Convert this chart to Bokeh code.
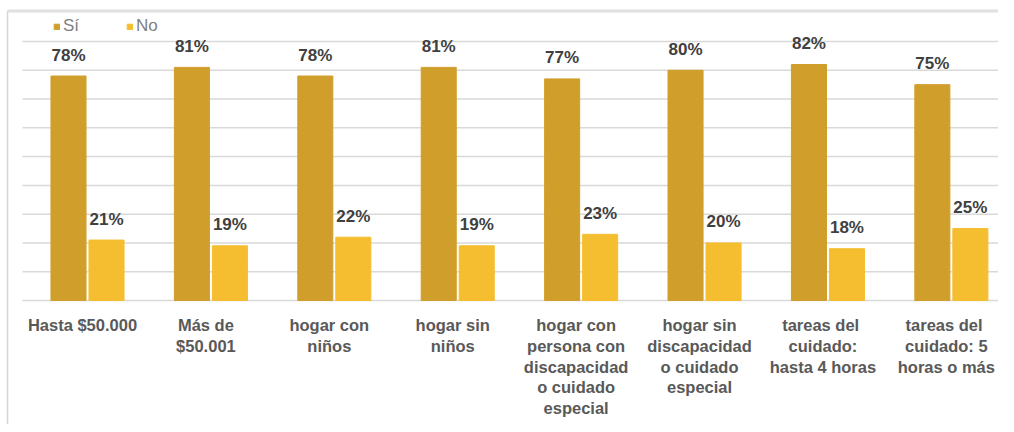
from bokeh.plotting import figure
from bokeh.models import ColumnDataSource, Range1d, Legend, LegendItem
from bokeh.transform import dodge
from bokeh.core.properties import value
from bokeh.embed import file_html
from bokeh.resources import INLINE

categories = [
    "Hasta $50.000",
    "Más de\n$50.001",
    "hogar con\nniños",
    "hogar sin\nniños",
    "hogar con\npersona con\ndiscapacidad\no cuidado\nespecial",
    "hogar sin\ndiscapacidad\no cuidado\nespecial",
    "tareas  del\ncuidado:\nhasta 4 horas",
    "tareas  del\ncuidado: 5\nhoras o más",
]
si_values = [78, 81, 78, 81, 77, 80, 82, 75]
no_values = [21, 19, 22, 19, 23, 20, 18, 25]
grid_ticks = [0, 10, 20, 30, 40, 50, 60, 70, 80, 90]

SI_COLOR = "#D09E2A"
NO_COLOR = "#F5BE30"
FONT = "Liberation Sans"

X_START, X_END = -0.205, 7.882
Y_START, Y_END = -43.09, 104.24
GRID_X0, GRID_X1 = -0.027, 8.2
BORDER_X, BORDER_Y = -0.148, 100.6

src = ColumnDataSource(dict(
    x=[i + 0.5 for i in range(len(categories))],
    cat=categories,
    si=si_values,
    no=no_values,
    zero=[0] * len(categories),
    si_lbl=[f"{v}%" for v in si_values],
    no_lbl=[f"{v}%" for v in no_values],
))

grid_src = ColumnDataSource(dict(
    y=grid_ticks,
    x0=[GRID_X0] * len(grid_ticks),
    x1=[GRID_X1] * len(grid_ticks),
))

p = figure(
    width=998, height=424,
    x_range=Range1d(X_START, X_END),
    y_range=Range1d(Y_START, Y_END),
    output_backend="svg", toolbar_location=None,
    x_axis_location=None, y_axis_location=None,
    min_border_left=0, min_border_right=0, min_border_top=0, min_border_bottom=0,
)
p.outline_line_color = None
p.grid.visible = False

# chart-area border (light gray, left and top)
p.segment(x0=[BORDER_X], y0=[BORDER_Y], x1=[BORDER_X], y1=[Y_START],
          line_color="#d4d4d4", line_width=1.5)
p.segment(x0=[BORDER_X], y0=[BORDER_Y], x1=[X_END], y1=[BORDER_Y],
          line_color="#e0e0e0", line_width=3)

# horizontal gridlines
p.segment(x0="x0", y0="y", x1="x1", y1="y", source=grid_src,
          line_color="#d9d9d9", line_width=1.5)

bw = 0.284
off = 0.154
r_si = p.vbar(x=dodge("x", -off), top="si", width=bw, source=src,
              fill_color=SI_COLOR, line_color=SI_COLOR)
r_no = p.vbar(x=dodge("x", off), top="no", width=bw, source=src,
              fill_color=NO_COLOR, line_color=NO_COLOR)

for col, lbl, o in (("si", "si_lbl", -off), ("no", "no_lbl", off)):
    p.text(x=dodge("x", o), y=col, text=lbl, source=src,
           text_align="center", text_baseline="alphabetic", y_offset=-21,
           text_font=value(FONT), text_font_style="bold", text_font_size="17px",
           text_color="#404040")

p.text(x="x", y="zero", text="cat", source=src,
       text_align="center", text_baseline="top", y_offset=16, x_offset=-5,
       text_font=value(FONT), text_font_style="bold", text_font_size="16.5px",
       text_color="#595959", text_line_height=1.14)

legend = Legend(
    items=[LegendItem(label="Sí", renderers=[r_si]), LegendItem(label="No", renderers=[r_no])],
    orientation="horizontal", location=(53, 388),
    glyph_width=7, glyph_height=7, label_height=7, label_standoff=3, spacing=43,
    padding=0, margin=0,
    background_fill_alpha=0, border_line_color=None,
    label_text_font=FONT, label_text_font_size="17px", label_text_color="#7f7f7f",
)
p.add_layout(legend, "center")

open("out.html", "w").write(file_html(p, INLINE))
